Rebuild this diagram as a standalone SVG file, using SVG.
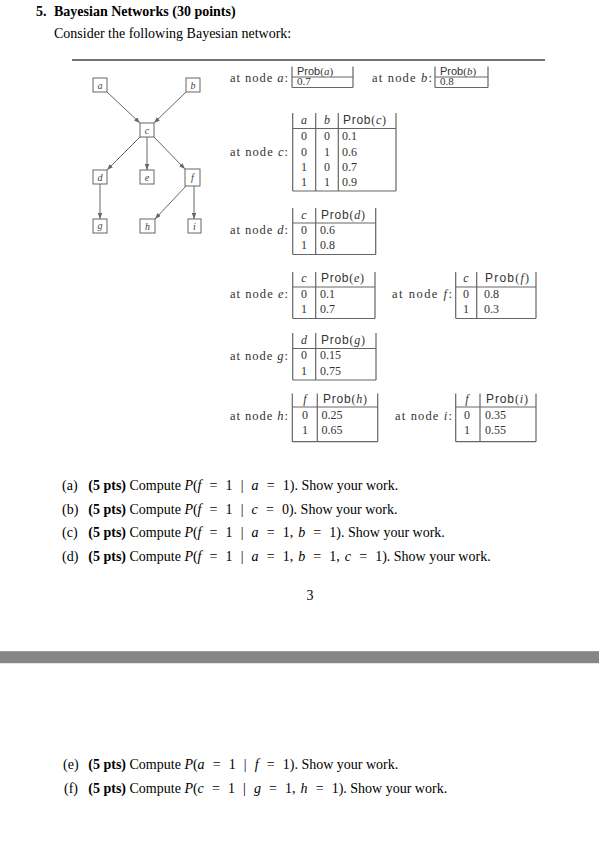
<svg xmlns="http://www.w3.org/2000/svg" width="599" height="848" viewBox="0 0 599 848">
<style>
.t{font-family:"Liberation Serif","Times New Roman",serif;fill:#000}
.h{font-size:14px;font-weight:bold}
.p{font-size:14px}
.b{font-weight:bold}
.it{font-style:italic}
.m{word-spacing:4.6px}
.cm{word-spacing:1.5px}
.rule{stroke:#444;stroke-width:1.3}
.tl{stroke:#666;stroke-width:1.2;fill:none}
.lbl{font-family:"Liberation Serif","Times New Roman",serif;font-size:12.5px;fill:#333;text-anchor:end}
.cell{font-family:"Liberation Serif","Times New Roman",serif;font-size:12px;fill:#333}
.sm{font-size:11px}
.ctr{text-anchor:middle}
.sans{font-family:"Liberation Sans",Arial,sans-serif}
.nbox{fill:#fff;stroke:#666;stroke-width:1}
.nlab{font-family:"Liberation Serif","Times New Roman",serif;font-style:italic;font-size:10px;fill:#444;text-anchor:middle}
.edge{stroke:#666;stroke-width:1;fill:none;marker-end:url(#arr)}
</style>
<defs>
<marker id="arr" viewBox="0 0 8 6" refX="8" refY="3" markerWidth="6" markerHeight="4.5" markerUnits="userSpaceOnUse" orient="auto">
<path d="M0,0 L8,3 L0,6 Z" fill="#666"/>
</marker>
</defs>
<rect width="599" height="848" fill="#fff"/>

<g id="header">
<text class="t h" x="36" y="16">5.</text>
<text class="t h" x="54" y="16">Bayesian Networks (30 points)</text>
<text class="t p" x="54" y="38">Consider the following Bayesian network:</text>
<line class="rule" x1="72" y1="60" x2="545" y2="60"/>
</g>

<g id="connectors">
<path class="edge" d="M107,92 L140,123"/>
<path class="edge" d="M186,92 L154,123"/>
<path class="edge" d="M140,137 L107,170"/>
<path class="edge" d="M147,137 L147,170"/>
<path class="edge" d="M154,137 L185,169"/>
<path class="edge" d="M100,184 L100,219"/>
<path class="edge" d="M186,186 L155,219"/>
<path class="edge" d="M194,186 L194,219"/>
</g>

<g id="node-a"><rect class="nbox" x="93" y="78" width="14" height="14"/><text class="nlab" x="100" y="88.5">a</text></g>
<g id="node-b"><rect class="nbox" x="186" y="78" width="14" height="14"/><text class="nlab" x="193" y="89">b</text></g>
<g id="node-c"><rect class="nbox" x="140" y="123" width="14" height="14"/><text class="nlab" x="147" y="133.5">c</text></g>
<g id="node-d"><rect class="nbox" x="93" y="170" width="14" height="14"/><text class="nlab" x="100" y="181">d</text></g>
<g id="node-e"><rect class="nbox" x="140" y="170" width="14" height="14"/><text class="nlab" x="147" y="180.5">e</text></g>
<g id="node-f"><rect class="nbox" x="185" y="169" width="15" height="17"/><text class="nlab" x="192.5" y="181">f</text></g>
<g id="node-g"><rect class="nbox" x="93" y="219" width="14" height="14"/><text class="nlab" x="100" y="228.5">g</text></g>
<g id="node-h"><rect class="nbox" x="140" y="219" width="15" height="14"/><text class="nlab" x="147.5" y="230">h</text></g>
<g id="node-i"><rect class="nbox" x="188" y="219" width="13" height="14"/><text class="nlab" x="194.5" y="230">i</text></g>

<g id="table-a">
<text class="lbl" x="288" y="82" textLength="58" lengthAdjust="spacing">at node <tspan class="it">a</tspan>:</text>
<path class="tl" d="M292,66.5 V87.5 M353,66.5 V87.5 M292,77 H353 M292,87.5 H353"/>
<text class="cell sm" x="297" y="74.5"><tspan class="sans">Prob</tspan>(<tspan class="it">a</tspan>)</text>
<text class="cell sm" x="297" y="85">0.7</text>
</g>

<g id="table-b">
<text class="lbl" x="432" y="82" textLength="60" lengthAdjust="spacing">at node <tspan class="it">b</tspan>:</text>
<path class="tl" d="M435,66.5 V87.5 M488,66.5 V87.5 M435,77 H488 M435,87.5 H488"/>
<text class="cell sm" x="440" y="74.5"><tspan class="sans">Prob</tspan>(<tspan class="it">b</tspan>)</text>
<text class="cell sm" x="440" y="85">0.8</text>
</g>

<g id="table-c">
<text class="lbl" x="288" y="156" textLength="58" lengthAdjust="spacing">at node <tspan class="it">c</tspan>:</text>
<path class="tl" d="M292.7,113 V191 M315.7,113 V191 M338.3,113 V191 M396,113 V191 M292.7,128.5 H396 M292.7,191 H396"/>
<text class="cell ctr it" x="304" y="124">a</text>
<text class="cell ctr it" x="327" y="124">b</text>
<text class="cell" x="343" y="124" textLength="43"><tspan class="sans">Prob</tspan>(<tspan class="it">c</tspan>)</text>
<text class="cell ctr" x="304" y="140">0</text><text class="cell ctr" x="327" y="140">0</text><text class="cell" x="342" y="140">0.1</text>
<text class="cell ctr" x="304" y="155.5">0</text><text class="cell ctr" x="327" y="155.5">1</text><text class="cell" x="342" y="155.5">0.6</text>
<text class="cell ctr" x="304" y="171">1</text><text class="cell ctr" x="327" y="171">0</text><text class="cell" x="342" y="171">0.7</text>
<text class="cell ctr" x="304" y="186">1</text><text class="cell ctr" x="327" y="186">1</text><text class="cell" x="342" y="186">0.9</text>
</g>

<g id="table-d">
<text class="lbl" x="288" y="233.5" textLength="58" lengthAdjust="spacing">at node <tspan class="it">d</tspan>:</text>
<path class="tl" d="M292.7,208 V254.5 M315.7,208 V254.5 M375.7,208 V254.5 M292.7,223 H375.7 M292.7,254.5 H375.7"/>
<text class="cell ctr it" x="304" y="218.5">c</text>
<text class="cell" x="321" y="218.5" textLength="44"><tspan class="sans">Prob</tspan>(<tspan class="it">d</tspan>)</text>
<text class="cell ctr" x="304" y="234">0</text><text class="cell" x="320" y="234">0.6</text>
<text class="cell ctr" x="304" y="249">1</text><text class="cell" x="320" y="249">0.8</text>
</g>

<g id="table-e">
<text class="lbl" x="288" y="297.5" textLength="58" lengthAdjust="spacing">at node <tspan class="it">e</tspan>:</text>
<path class="tl" d="M292.7,272 V318.5 M315.7,272 V318.5 M375,272 V318.5 M292.7,287 H375 M292.7,318.5 H375"/>
<text class="cell ctr it" x="304" y="282">c</text>
<text class="cell" x="321" y="282" textLength="43"><tspan class="sans">Prob</tspan>(<tspan class="it">e</tspan>)</text>
<text class="cell ctr" x="304" y="297.5">0</text><text class="cell" x="320" y="297.5">0.1</text>
<text class="cell ctr" x="304" y="312.5">1</text><text class="cell" x="320" y="312.5">0.7</text>
</g>

<g id="table-f">
<text class="lbl" x="452" y="297.5" textLength="60" lengthAdjust="spacing">at node <tspan class="it">f</tspan>:</text>
<path class="tl" d="M455.7,272 V318.5 M476.7,272 V318.5 M536,272 V318.5 M455.7,287 H536 M455.7,318.5 H536"/>
<text class="cell ctr it" x="466" y="282">c</text>
<text class="cell" x="485" y="282" textLength="44"><tspan class="sans">Prob</tspan>(<tspan class="it">f</tspan>)</text>
<text class="cell ctr" x="466" y="297.5">0</text><text class="cell" x="484" y="297.5">0.8</text>
<text class="cell ctr" x="466" y="312.5">1</text><text class="cell" x="484" y="312.5">0.3</text>
</g>

<g id="table-g">
<text class="lbl" x="288" y="359.5" textLength="58" lengthAdjust="spacing">at node <tspan class="it">g</tspan>:</text>
<path class="tl" d="M292.7,333 V380 M315.7,333 V380 M376,333 V380 M292.7,348.5 H376 M292.7,380 H376"/>
<text class="cell ctr it" x="304" y="343.5">d</text>
<text class="cell" x="321" y="343.5" textLength="44"><tspan class="sans">Prob</tspan>(<tspan class="it">g</tspan>)</text>
<text class="cell ctr" x="304" y="359">0</text><text class="cell" x="320" y="359">0.15</text>
<text class="cell ctr" x="304" y="374.5">1</text><text class="cell" x="320" y="374.5">0.75</text>
</g>

<g id="table-h">
<text class="lbl" x="288" y="419.5" textLength="58" lengthAdjust="spacing">at node <tspan class="it">h</tspan>:</text>
<path class="tl" d="M292.3,393.5 V441.7 M317.3,393.5 V441.7 M377.7,393.5 V441.7 M292.3,407 H377.7 M292.3,441.7 H377.7"/>
<text class="cell ctr it" x="305" y="403">f</text>
<text class="cell" x="323" y="403" textLength="44"><tspan class="sans">Prob</tspan>(<tspan class="it">h</tspan>)</text>
<text class="cell ctr" x="305" y="418.5">0</text><text class="cell" x="321.5" y="418.5">0.25</text>
<text class="cell ctr" x="305" y="433.5">1</text><text class="cell" x="321.5" y="433.5">0.65</text>
</g>

<g id="table-i">
<text class="lbl" x="452" y="419.5" textLength="57" lengthAdjust="spacing">at node <tspan class="it">i</tspan>:</text>
<path class="tl" d="M455.7,393.5 V441.7 M480,393.5 V441.7 M536,393.5 V441.7 M455.7,407 H536 M455.7,441.7 H536"/>
<text class="cell ctr it" x="467" y="403">f</text>
<text class="cell" x="486" y="403" textLength="42"><tspan class="sans">Prob</tspan>(<tspan class="it">i</tspan>)</text>
<text class="cell ctr" x="467" y="418.5">0</text><text class="cell" x="485" y="418.5">0.35</text>
<text class="cell ctr" x="467" y="433.5">1</text><text class="cell" x="485" y="433.5">0.55</text>
</g>

<g id="questions">
<text class="t p" x="62" y="489.5">(a)</text>
<text class="t p" x="88.3" y="489.5"><tspan class="b">(5 pts)</tspan> Compute <tspan class="m"><tspan class="it">P</tspan>(<tspan class="it">f</tspan> = 1 | <tspan class="it">a</tspan> = 1)</tspan>. Show your work.</text>
<text class="t p" x="62" y="513.5">(b)</text>
<text class="t p" x="88.3" y="513.5"><tspan class="b">(5 pts)</tspan> Compute <tspan class="m"><tspan class="it">P</tspan>(<tspan class="it">f</tspan> = 1 | <tspan class="it">c</tspan> = 0)</tspan>. Show your work.</text>
<text class="t p" x="62" y="537">(c)</text>
<text class="t p" x="88.3" y="537"><tspan class="b">(5 pts)</tspan> Compute <tspan class="m"><tspan class="it">P</tspan>(<tspan class="it">f</tspan> = 1 | <tspan class="it">a</tspan> = 1<tspan class="cm">, </tspan><tspan class="it">b</tspan> = 1)</tspan>. Show your work.</text>
<text class="t p" x="62" y="561">(d)</text>
<text class="t p" x="88.3" y="561"><tspan class="b">(5 pts)</tspan> Compute <tspan class="m"><tspan class="it">P</tspan>(<tspan class="it">f</tspan> = 1 | <tspan class="it">a</tspan> = 1<tspan class="cm">, </tspan><tspan class="it">b</tspan> = 1<tspan class="cm">, </tspan><tspan class="it">c</tspan> = 1)</tspan>. Show your work.</text>
<text class="t p" x="310" y="600" text-anchor="middle">3</text>
</g>

<g id="page-break">
<rect x="0" y="651" width="599" height="12" fill="#868686"/>
<line x1="0" y1="651.5" x2="599" y2="651.5" stroke="#9a9a9a" stroke-width="1"/>
<line x1="0" y1="663.5" x2="599" y2="663.5" stroke="#e6e6e6" stroke-width="1"/>
</g>

<g id="questions-2">
<text class="t p" x="63" y="768.5">(e)</text>
<text class="t p" x="88.3" y="768.5"><tspan class="b">(5 pts)</tspan> Compute <tspan class="m"><tspan class="it">P</tspan>(<tspan class="it">a</tspan> = 1 | <tspan class="it">f</tspan> = 1)</tspan>. Show your work.</text>
<text class="t p" x="64" y="792.5">(f)</text>
<text class="t p" x="88.3" y="792.5"><tspan class="b">(5 pts)</tspan> Compute <tspan class="m"><tspan class="it">P</tspan>(<tspan class="it">c</tspan> = 1 | <tspan class="it">g</tspan> = 1<tspan class="cm">, </tspan><tspan class="it">h</tspan> = 1)</tspan>. Show your work.</text>
</g>
</svg>
